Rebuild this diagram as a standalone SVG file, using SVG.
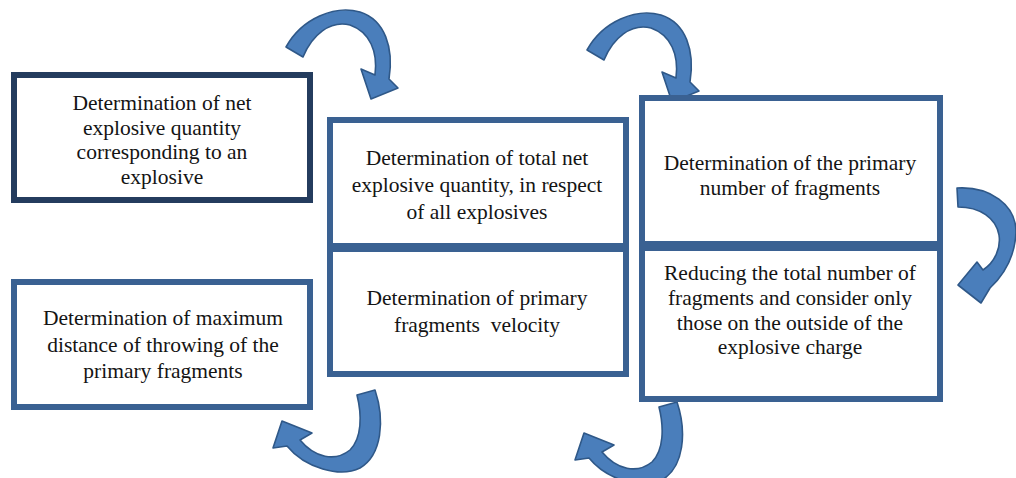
<svg xmlns="http://www.w3.org/2000/svg" width="1016" height="478" viewBox="0 0 1016 478">
  <style>
    .box { fill: #ffffff; stroke: #3a6192; stroke-width: 6; }
    .box.dark { stroke: #243c5e; }
    .arrow { fill: #4a7ebb; stroke: #2f5888; stroke-width: 1.6; stroke-linejoin: round; }
    .label { font-family: 'Liberation Serif', 'DejaVu Serif', serif; font-size: 21.5px; fill: #141414; text-anchor: middle; }
  </style>
  <defs>
    <!-- curved block arrow, over-the-top style -->
    <path id="arcOver" d="M286,47 C302,18 335,5 360,12 C385,20 394,48 389,79 L398,88 L371,99 L361,69 L375,75 C378,52 370,32 350,25 C330,20 312,35 303,57 Z"/>
    <!-- curved block arrow, under-and-back style -->
    <path id="arcUnder" d="M375,390 C385,420 382,455 360,468 C340,478 305,468 287,446 L273,448 L282,421 L312,433 L300,440 C315,458 335,462 350,450 C362,438 362,415 357,395 Z"/>
  </defs>

  <g id="connectors">
    <use href="#arcOver" class="arrow"/>
    <use href="#arcOver" class="arrow" transform="translate(301,3)"/>
    <path class="arrow" d="M957,188 C990,186 1016,205 1016,232 C1015,256 1005,274 990,288 L981,303 L958,285 L977,262 L983,270 C995,262 1001,248 999,235 C996,218 980,207 958,207 Z"/>
    <use href="#arcUnder" class="arrow"/>
    <use href="#arcUnder" class="arrow" transform="translate(302,12)"/>
  </g>

  <g id="node-net-quantity" class="label">
    <rect class="box dark" x="14" y="75" width="296" height="125"/>
    <text x="162" y="110">Determination of net</text>
    <text x="162" y="134.5">explosive quantity</text>
    <text x="162" y="159">corresponding to an</text>
    <text x="162" y="183.5">explosive</text>
  </g>

  <g id="node-total-quantity" class="label">
    <rect class="box" x="330" y="120" width="296" height="126"/>
    <text x="477" y="165">Determination of total net</text>
    <text x="477" y="192">explosive quantity, in respect</text>
    <text x="477" y="219">of all explosives</text>
  </g>

  <g id="node-velocity" class="label">
    <rect class="box" x="330" y="249" width="296" height="125"/>
    <text x="477" y="305">Determination of primary</text>
    <text x="477" y="332" xml:space="preserve">fragments  velocity</text>
  </g>

  <g id="node-primary-number" class="label">
    <rect class="box" x="642" y="98" width="298" height="146"/>
    <text x="790" y="170">Determination of the primary</text>
    <text x="790" y="195">number of fragments</text>
  </g>

  <g id="node-reduce" class="label">
    <rect class="box" x="642" y="248" width="298" height="151"/>
    <text x="790" y="280">Reducing the total number of</text>
    <text x="790" y="305">fragments and consider only</text>
    <text x="790" y="330">those on the outside of the</text>
    <text x="790" y="354">explosive charge</text>
  </g>

  <g id="node-max-distance" class="label">
    <rect class="box" x="14" y="282" width="296" height="125"/>
    <text x="163" y="325">Determination of maximum</text>
    <text x="163" y="352">distance of throwing of the</text>
    <text x="163" y="378">primary fragments</text>
  </g>
</svg>
